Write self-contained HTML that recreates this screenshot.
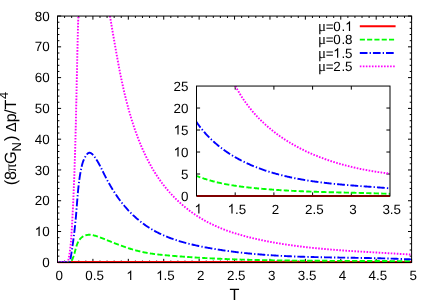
<!DOCTYPE html>
<html><head><meta charset="utf-8"><title>plot</title>
<style>html,body{margin:0;padding:0;background:#fff;}svg{display:block;}</style>
</head><body>
<svg width="436" height="305" viewBox="0 0 436 305" style="will-change:transform">
<rect width="436" height="305" fill="#fff"/>
<defs>
<clipPath id="cm"><rect x="57.5" y="16.05" width="354.1" height="247.60"/></clipPath>
<clipPath id="ci"><rect x="196.5" y="86.05" width="193.5" height="110.95"/></clipPath>
</defs>
<g stroke="#000" stroke-width="1.0" fill="none">
<path d="M57.50,262.45v-3.6M57.50,16.05v3.6M64.58,262.45v-1.9M64.58,16.05v1.9M71.66,262.45v-1.9M71.66,16.05v1.9M78.75,262.45v-1.9M78.75,16.05v1.9M85.83,262.45v-1.9M85.83,16.05v1.9M92.91,262.45v-3.6M92.91,16.05v3.6M99.99,262.45v-1.9M99.99,16.05v1.9M107.07,262.45v-1.9M107.07,16.05v1.9M114.16,262.45v-1.9M114.16,16.05v1.9M121.24,262.45v-1.9M121.24,16.05v1.9M128.32,262.45v-3.6M128.32,16.05v3.6M135.40,262.45v-1.9M135.40,16.05v1.9M142.48,262.45v-1.9M142.48,16.05v1.9M149.57,262.45v-1.9M149.57,16.05v1.9M156.65,262.45v-1.9M156.65,16.05v1.9M163.73,262.45v-3.6M163.73,16.05v3.6M170.81,262.45v-1.9M170.81,16.05v1.9M177.89,262.45v-1.9M177.89,16.05v1.9M184.98,262.45v-1.9M184.98,16.05v1.9M192.06,262.45v-1.9M192.06,16.05v1.9M199.14,262.45v-3.6M199.14,16.05v3.6M206.22,262.45v-1.9M206.22,16.05v1.9M213.30,262.45v-1.9M213.30,16.05v1.9M220.39,262.45v-1.9M220.39,16.05v1.9M227.47,262.45v-1.9M227.47,16.05v1.9M234.55,262.45v-3.6M234.55,16.05v3.6M241.63,262.45v-1.9M241.63,16.05v1.9M248.71,262.45v-1.9M248.71,16.05v1.9M255.80,262.45v-1.9M255.80,16.05v1.9M262.88,262.45v-1.9M262.88,16.05v1.9M269.96,262.45v-3.6M269.96,16.05v3.6M277.04,262.45v-1.9M277.04,16.05v1.9M284.12,262.45v-1.9M284.12,16.05v1.9M291.21,262.45v-1.9M291.21,16.05v1.9M298.29,262.45v-1.9M298.29,16.05v1.9M305.37,262.45v-3.6M305.37,16.05v3.6M312.45,262.45v-1.9M312.45,16.05v1.9M319.53,262.45v-1.9M319.53,16.05v1.9M326.62,262.45v-1.9M326.62,16.05v1.9M333.70,262.45v-1.9M333.70,16.05v1.9M340.78,262.45v-3.6M340.78,16.05v3.6M347.86,262.45v-1.9M347.86,16.05v1.9M354.94,262.45v-1.9M354.94,16.05v1.9M362.03,262.45v-1.9M362.03,16.05v1.9M369.11,262.45v-1.9M369.11,16.05v1.9M376.19,262.45v-3.6M376.19,16.05v3.6M383.27,262.45v-1.9M383.27,16.05v1.9M390.35,262.45v-1.9M390.35,16.05v1.9M397.44,262.45v-1.9M397.44,16.05v1.9M404.52,262.45v-1.9M404.52,16.05v1.9M411.60,262.45v-3.6M411.60,16.05v3.6M57.5,262.30h3.6M411.6,262.30h-3.6M57.5,256.14h1.9M411.6,256.14h-1.9M57.5,249.99h1.9M411.6,249.99h-1.9M57.5,243.83h1.9M411.6,243.83h-1.9M57.5,237.68h1.9M411.6,237.68h-1.9M57.5,231.52h3.6M411.6,231.52h-3.6M57.5,225.36h1.9M411.6,225.36h-1.9M57.5,219.21h1.9M411.6,219.21h-1.9M57.5,213.05h1.9M411.6,213.05h-1.9M57.5,206.90h1.9M411.6,206.90h-1.9M57.5,200.74h3.6M411.6,200.74h-3.6M57.5,194.58h1.9M411.6,194.58h-1.9M57.5,188.43h1.9M411.6,188.43h-1.9M57.5,182.27h1.9M411.6,182.27h-1.9M57.5,176.12h1.9M411.6,176.12h-1.9M57.5,169.96h3.6M411.6,169.96h-3.6M57.5,163.80h1.9M411.6,163.80h-1.9M57.5,157.65h1.9M411.6,157.65h-1.9M57.5,151.49h1.9M411.6,151.49h-1.9M57.5,145.34h1.9M411.6,145.34h-1.9M57.5,139.18h3.6M411.6,139.18h-3.6M57.5,133.02h1.9M411.6,133.02h-1.9M57.5,126.87h1.9M411.6,126.87h-1.9M57.5,120.71h1.9M411.6,120.71h-1.9M57.5,114.56h1.9M411.6,114.56h-1.9M57.5,108.40h3.6M411.6,108.40h-3.6M57.5,102.24h1.9M411.6,102.24h-1.9M57.5,96.09h1.9M411.6,96.09h-1.9M57.5,89.93h1.9M411.6,89.93h-1.9M57.5,83.78h1.9M411.6,83.78h-1.9M57.5,77.62h3.6M411.6,77.62h-3.6M57.5,71.46h1.9M411.6,71.46h-1.9M57.5,65.31h1.9M411.6,65.31h-1.9M57.5,59.15h1.9M411.6,59.15h-1.9M57.5,53.00h1.9M411.6,53.00h-1.9M57.5,46.84h3.6M411.6,46.84h-3.6M57.5,40.68h1.9M411.6,40.68h-1.9M57.5,34.53h1.9M411.6,34.53h-1.9M57.5,28.37h1.9M411.6,28.37h-1.9M57.5,22.22h1.9M411.6,22.22h-1.9M57.5,16.06h3.6M411.6,16.06h-3.6"/>
</g>
<g clip-path="url(#cm)" fill="none" stroke-linejoin="round">
<path d="M57.5,262.05H411.6" stroke="#ff0000" stroke-width="2.3"/>
<path d="M57.50,262.10 L71.00,262.10 L71.30,261.53 L71.60,260.94 L71.89,260.33 L72.18,259.70 L72.47,259.06 L72.75,258.40 L73.02,257.73 L73.29,257.04 L73.54,256.35 L73.78,255.64 L74.01,254.92 L74.23,254.20 L74.45,253.47 L74.65,252.74 L74.85,252.00 L75.05,251.26 L75.24,250.52 L75.44,249.78 L75.64,249.04 L75.84,248.31 L76.05,247.58 L76.26,246.85 L76.48,246.14 L76.71,245.43 L76.96,244.73 L77.22,244.04 L77.49,243.36 L77.78,242.70 L78.09,242.06 L78.42,241.42 L78.78,240.81 L79.15,240.22 L79.55,239.65 L79.97,239.10 L80.43,238.58 L80.91,238.09 L81.41,237.62 L81.96,237.18 L82.53,236.78 L83.13,236.41 L83.76,236.07 L84.40,235.77 L85.06,235.51 L85.73,235.29 L86.39,235.12 L87.06,234.98 L87.73,234.88 L88.40,234.81 L89.07,234.79 L89.75,234.79 L90.42,234.82 L91.09,234.89 L91.76,234.98 L92.44,235.09 L93.11,235.23 L93.79,235.38 L94.46,235.56 L95.14,235.75 L95.82,235.95 L96.50,236.17 L97.17,236.40 L97.85,236.64 L98.53,236.88 L99.21,237.13 L99.89,237.38 L100.57,237.64 L101.26,237.90 L101.94,238.16 L102.62,238.43 L103.30,238.70 L103.99,238.97 L104.67,239.24 L105.36,239.52 L106.04,239.79 L106.73,240.07 L107.41,240.35 L108.10,240.63 L108.78,240.91 L109.47,241.18 L110.16,241.46 L110.84,241.74 L111.53,242.01 L112.22,242.28 L112.91,242.56 L113.60,242.83 L114.29,243.10 L114.97,243.36 L115.66,243.63 L116.35,243.90 L117.04,244.16 L117.73,244.42 L118.43,244.68 L119.12,244.94 L119.81,245.20 L120.50,245.45 L121.19,245.70 L121.88,245.95 L122.58,246.20 L123.27,246.44 L123.96,246.69 L124.66,246.93 L125.35,247.16 L126.05,247.40 L126.74,247.63 L127.43,247.86 L128.13,248.09 L128.83,248.31 L129.52,248.53 L130.22,248.75 L130.91,248.97 L131.61,249.18 L132.31,249.39 L133.00,249.59 L133.70,249.79 L134.40,249.99 L135.10,250.19 L135.80,250.38 L136.49,250.56 L137.19,250.75 L137.89,250.93 L138.59,251.10 L139.29,251.27 L139.99,251.44 L140.69,251.61 L141.39,251.77 L142.09,251.92 L142.79,252.07 L143.50,252.22 L144.20,252.36 L144.90,252.50 L145.60,252.63 L146.30,252.76 L147.01,252.89 L147.71,253.01 L148.41,253.13 L149.12,253.25 L149.82,253.36 L150.52,253.47 L151.23,253.58 L151.93,253.68 L152.64,253.78 L153.34,253.88 L154.05,253.98 L154.75,254.07 L155.46,254.16 L156.17,254.25 L156.87,254.33 L157.58,254.42 L158.28,254.50 L158.99,254.58 L159.70,254.65 L160.41,254.73 L161.11,254.80 L161.82,254.87 L162.53,254.95 L163.24,255.01 L163.95,255.08 L164.66,255.15 L165.37,255.21 L166.07,255.28 L166.78,255.34 L167.49,255.41 L168.20,255.47 L168.91,255.53 L169.62,255.59 L170.34,255.65 L171.05,255.71 L171.76,255.77 L172.47,255.83 L173.18,255.89 L173.89,255.95 L174.60,256.01 L175.32,256.06 L176.03,256.12 L176.74,256.18 L177.45,256.23 L178.17,256.29 L178.88,256.34 L179.59,256.40 L180.31,256.45 L181.02,256.51 L181.74,256.56 L182.45,256.61 L183.16,256.66 L183.88,256.72 L184.59,256.77 L185.31,256.82 L186.02,256.87 L186.74,256.92 L187.45,256.97 L188.17,257.02 L188.89,257.07 L189.60,257.12 L190.32,257.16 L191.04,257.21 L191.75,257.26 L192.47,257.30 L193.19,257.35 L193.90,257.40 L194.62,257.44 L195.34,257.49 L196.06,257.53 L196.77,257.58 L197.49,257.62 L198.21,257.66 L198.93,257.71 L199.65,257.75 L200.37,257.79 L201.09,257.83 L201.80,257.87 L202.52,257.92 L203.24,257.96 L203.96,258.00 L204.68,258.04 L205.40,258.08 L206.12,258.11 L206.84,258.15 L207.56,258.19 L208.28,258.23 L209.00,258.27 L209.72,258.30 L210.45,258.34 L211.17,258.38 L211.89,258.41 L212.61,258.45 L213.33,258.49 L214.05,258.52 L214.77,258.55 L215.50,258.59 L216.22,258.62 L216.94,258.66 L217.66,258.69 L218.39,258.72 L219.11,258.76 L219.83,258.79 L220.55,258.82 L221.28,258.85 L222.00,258.88 L222.72,258.91 L223.45,258.94 L224.17,258.97 L224.89,259.00 L225.62,259.03 L226.34,259.06 L227.07,259.09 L227.79,259.12 L228.51,259.15 L229.24,259.18 L229.96,259.20 L230.69,259.23 L231.41,259.26 L232.14,259.28 L232.86,259.31 L233.59,259.34 L234.31,259.36 L235.04,259.39 L235.76,259.41 L236.49,259.44 L237.21,259.46 L237.94,259.49 L238.66,259.51 L239.39,259.53 L240.12,259.56 L240.84,259.58 L241.57,259.60 L242.29,259.62 L243.02,259.65 L243.75,259.67 L244.47,259.69 L245.20,259.71 L245.93,259.73 L246.65,259.75 L247.38,259.77 L248.11,259.79 L248.83,259.81 L249.56,259.83 L250.29,259.85 L251.01,259.87 L251.74,259.89 L252.47,259.91 L253.20,259.93 L253.92,259.95 L254.65,259.96 L255.38,259.98 L256.11,260.00 L256.83,260.02 L257.56,260.03 L258.29,260.05 L259.02,260.07 L259.75,260.08 L260.47,260.10 L261.20,260.11 L261.93,260.13 L262.66,260.15 L263.39,260.16 L264.12,260.17 L264.84,260.19 L265.57,260.20 L266.30,260.22 L267.03,260.23 L267.76,260.25 L268.49,260.26 L269.21,260.27 L269.94,260.29 L270.67,260.30 L271.40,260.31 L272.13,260.32 L272.86,260.34 L273.59,260.35 L274.32,260.36 L275.04,260.37 L275.77,260.38 L276.50,260.39 L277.23,260.41 L277.96,260.42 L278.69,260.43 L279.42,260.44 L280.15,260.45 L280.88,260.46 L281.61,260.47 L282.34,260.48 L283.06,260.49 L283.79,260.50 L284.52,260.51 L285.25,260.52 L285.98,260.52 L286.71,260.53 L287.44,260.54 L288.17,260.55 L288.90,260.56 L289.63,260.57 L290.36,260.57 L291.09,260.58 L291.81,260.59 L292.54,260.60 L293.27,260.61 L294.00,260.61 L294.73,260.62 L295.46,260.63 L296.19,260.63 L296.92,260.64 L297.65,260.65 L298.38,260.65 L299.11,260.66 L299.84,260.67 L300.57,260.67 L301.30,260.68 L302.02,260.68 L302.75,260.69 L303.48,260.69 L304.21,260.70 L304.94,260.71 L305.67,260.71 L306.40,260.72 L307.13,260.72 L307.86,260.73 L308.59,260.73 L309.31,260.74 L310.04,260.74 L310.77,260.74 L311.50,260.75 L312.23,260.75 L312.96,260.76 L313.69,260.76 L314.42,260.77 L315.14,260.77 L315.87,260.77 L316.60,260.78 L317.33,260.78 L318.06,260.78 L318.79,260.79 L319.52,260.79 L320.24,260.79 L320.97,260.80 L321.70,260.80 L322.43,260.80 L323.16,260.81 L323.88,260.81 L324.61,260.81 L325.34,260.82 L326.07,260.82 L326.80,260.82 L327.52,260.82 L328.25,260.83 L328.98,260.83 L329.71,260.83 L330.43,260.84 L331.16,260.84 L331.89,260.84 L332.62,260.84 L333.34,260.85 L334.07,260.85 L334.80,260.85 L335.53,260.85 L336.25,260.85 L336.98,260.86 L337.71,260.86 L338.43,260.86 L339.16,260.86 L339.89,260.87 L340.61,260.87 L341.34,260.87 L342.06,260.87 L342.79,260.87 L343.52,260.88 L344.24,260.88 L344.97,260.88 L345.69,260.88 L346.42,260.88 L347.15,260.89 L347.87,260.89 L348.60,260.89 L349.32,260.89 L350.05,260.89 L350.77,260.90 L351.50,260.90 L352.22,260.90 L352.95,260.90 L353.67,260.91 L354.40,260.91 L355.12,260.91 L355.85,260.91 L356.57,260.91 L357.29,260.92 L358.02,260.92 L358.74,260.92 L359.47,260.92 L360.19,260.93 L360.91,260.93 L361.64,260.93 L362.36,260.93 L363.08,260.94 L363.81,260.94 L364.53,260.94 L365.25,260.94 L365.97,260.95 L366.70,260.95 L367.42,260.95 L368.14,260.95 L368.86,260.96 L369.58,260.96 L370.31,260.96 L371.03,260.97 L371.75,260.97 L372.47,260.97 L373.19,260.98 L373.91,260.98 L374.63,260.98 L375.36,260.99 L376.08,260.99 L376.80,260.99 L377.52,261.00 L378.24,261.00 L378.96,261.01 L379.68,261.01 L380.40,261.01 L381.12,261.02 L381.84,261.02 L382.55,261.03 L383.27,261.03 L383.99,261.04 L384.71,261.04 L385.43,261.05 L386.15,261.05 L386.87,261.06 L387.58,261.06 L388.30,261.07 L389.02,261.07 L389.74,261.08 L390.46,261.08 L391.17,261.09 L391.89,261.10 L392.61,261.10 L393.32,261.11 L394.04,261.11 L394.76,261.12 L395.47,261.13 L396.19,261.13 L396.90,261.14 L397.62,261.15 L398.33,261.15 L399.05,261.16 L399.77,261.17 L400.48,261.18 L401.19,261.18 L401.91,261.19 L402.62,261.20 L403.34,261.21 L404.05,261.22 L404.76,261.22 L405.48,261.23 L406.19,261.24 L406.90,261.25 L407.62,261.26 L408.33,261.27 L409.04,261.28 L409.75,261.29 L410.47,261.30 L411.18,261.31" stroke="#00ff00" stroke-width="1.9" stroke-dasharray="5.25 2.25"/>
<path d="M57.50,262.10 L69.90,262.10 L70.08,261.14 L70.25,260.19 L70.42,259.23 L70.58,258.28 L70.75,257.32 L70.91,256.37 L71.07,255.42 L71.22,254.47 L71.37,253.53 L71.52,252.58 L71.67,251.64 L71.82,250.69 L71.96,249.75 L72.10,248.81 L72.24,247.87 L72.38,246.92 L72.52,245.98 L72.65,245.05 L72.79,244.11 L72.92,243.17 L73.05,242.23 L73.17,241.29 L73.30,240.35 L73.42,239.42 L73.55,238.48 L73.67,237.54 L73.78,236.61 L73.90,235.67 L74.02,234.73 L74.13,233.79 L74.24,232.86 L74.35,231.92 L74.46,230.98 L74.57,230.04 L74.67,229.10 L74.78,228.16 L74.88,227.22 L74.98,226.28 L75.08,225.34 L75.18,224.39 L75.27,223.45 L75.37,222.50 L75.46,221.56 L75.56,220.61 L75.65,219.66 L75.73,218.71 L75.82,217.76 L75.91,216.81 L75.99,215.85 L76.08,214.90 L76.16,213.94 L76.24,212.98 L76.32,212.02 L76.40,211.06 L76.48,210.10 L76.55,209.13 L76.63,208.17 L76.71,207.20 L76.78,206.23 L76.86,205.26 L76.93,204.29 L77.01,203.32 L77.08,202.35 L77.16,201.38 L77.24,200.41 L77.32,199.44 L77.39,198.47 L77.47,197.49 L77.55,196.52 L77.64,195.55 L77.72,194.58 L77.81,193.61 L77.89,192.64 L77.98,191.67 L78.07,190.71 L78.17,189.74 L78.26,188.78 L78.36,187.81 L78.47,186.85 L78.57,185.89 L78.68,184.93 L78.79,183.97 L78.90,183.02 L79.02,182.06 L79.14,181.11 L79.27,180.16 L79.40,179.21 L79.53,178.27 L79.67,177.33 L79.81,176.39 L79.96,175.45 L80.11,174.52 L80.27,173.59 L80.43,172.66 L80.60,171.74 L80.77,170.82 L80.95,169.90 L81.13,168.98 L81.32,168.07 L81.52,167.17 L81.73,166.27 L81.94,165.37 L82.18,164.48 L82.43,163.59 L82.70,162.70 L82.99,161.82 L83.31,160.95 L83.66,160.08 L84.03,159.21 L84.44,158.35 L84.88,157.49 L85.35,156.64 L85.87,155.80 L86.43,154.98 L87.02,154.22 L87.64,153.57 L88.29,153.08 L88.96,152.80 L89.65,152.74 L90.35,152.88 L91.05,153.20 L91.76,153.68 L92.47,154.30 L93.17,155.04 L93.85,155.85 L94.52,156.73 L95.17,157.65 L95.79,158.57 L96.39,159.49 L96.96,160.39 L97.50,161.29 L98.02,162.17 L98.52,163.05 L99.00,163.92 L99.46,164.78 L99.91,165.64 L100.35,166.49 L100.78,167.33 L101.20,168.18 L101.61,169.01 L102.02,169.85 L102.43,170.69 L102.83,171.52 L103.24,172.35 L103.66,173.19 L104.07,174.02 L104.49,174.85 L104.92,175.69 L105.35,176.52 L105.78,177.35 L106.21,178.19 L106.65,179.02 L107.10,179.85 L107.54,180.68 L108.00,181.50 L108.45,182.33 L108.91,183.16 L109.38,183.98 L109.85,184.80 L110.32,185.63 L110.80,186.45 L111.29,187.26 L111.77,188.08 L112.27,188.89 L112.77,189.70 L113.27,190.51 L113.78,191.32 L114.29,192.12 L114.81,192.92 L115.33,193.72 L115.86,194.52 L116.39,195.31 L116.93,196.10 L117.48,196.88 L118.03,197.67 L118.58,198.44 L119.15,199.22 L119.71,199.99 L120.29,200.76 L120.86,201.52 L121.45,202.28 L122.04,203.03 L122.64,203.78 L123.24,204.53 L123.85,205.27 L124.47,206.01 L125.09,206.74 L125.72,207.47 L126.35,208.19 L126.99,208.91 L127.64,209.62 L128.29,210.32 L128.95,211.02 L129.62,211.72 L130.29,212.41 L130.97,213.09 L131.65,213.77 L132.34,214.44 L133.03,215.11 L133.73,215.76 L134.44,216.42 L135.15,217.06 L135.87,217.71 L136.59,218.34 L137.32,218.97 L138.05,219.59 L138.79,220.20 L139.54,220.81 L140.28,221.41 L141.04,222.00 L141.80,222.59 L142.56,223.17 L143.33,223.74 L144.10,224.30 L144.88,224.86 L145.66,225.41 L146.45,225.95 L147.24,226.48 L148.04,227.00 L148.84,227.52 L149.64,228.03 L150.45,228.53 L151.26,229.02 L152.08,229.51 L152.90,229.98 L153.73,230.45 L154.56,230.91 L155.39,231.37 L156.23,231.81 L157.07,232.25 L157.91,232.68 L158.76,233.11 L159.61,233.52 L160.47,233.93 L161.32,234.33 L162.19,234.73 L163.05,235.12 L163.92,235.50 L164.79,235.87 L165.66,236.24 L166.54,236.61 L167.42,236.96 L168.30,237.31 L169.19,237.65 L170.08,237.99 L170.97,238.32 L171.86,238.65 L172.76,238.97 L173.66,239.29 L174.56,239.59 L175.46,239.90 L176.37,240.20 L177.28,240.49 L178.19,240.78 L179.10,241.06 L180.01,241.34 L180.93,241.61 L181.85,241.88 L182.77,242.14 L183.69,242.40 L184.61,242.66 L185.54,242.91 L186.47,243.15 L187.39,243.39 L188.32,243.63 L189.25,243.86 L190.19,244.09 L191.12,244.32 L192.06,244.54 L192.99,244.76 L193.93,244.97 L194.87,245.19 L195.81,245.39 L196.75,245.60 L197.69,245.80 L198.63,246.00 L199.57,246.19 L200.51,246.39 L201.45,246.58 L202.40,246.77 L203.34,246.95 L204.29,247.13 L205.23,247.31 L206.18,247.49 L207.12,247.67 L208.07,247.84 L209.01,248.01 L209.96,248.18 L210.90,248.35 L211.85,248.51 L212.79,248.68 L213.74,248.84 L214.69,249.00 L215.63,249.15 L216.58,249.31 L217.52,249.46 L218.47,249.61 L219.42,249.76 L220.36,249.91 L221.31,250.05 L222.26,250.19 L223.21,250.33 L224.15,250.47 L225.10,250.61 L226.05,250.74 L227.00,250.88 L227.94,251.01 L228.89,251.14 L229.84,251.27 L230.79,251.39 L231.74,251.52 L232.69,251.64 L233.63,251.76 L234.58,251.88 L235.53,252.00 L236.48,252.11 L237.43,252.22 L238.38,252.34 L239.33,252.45 L240.28,252.56 L241.23,252.66 L242.18,252.77 L243.13,252.87 L244.08,252.97 L245.03,253.07 L245.98,253.17 L246.93,253.27 L247.88,253.37 L248.83,253.46 L249.78,253.55 L250.73,253.64 L251.68,253.73 L252.63,253.82 L253.58,253.91 L254.53,253.99 L255.49,254.08 L256.44,254.16 L257.39,254.24 L258.34,254.32 L259.29,254.40 L260.24,254.48 L261.20,254.55 L262.15,254.63 L263.10,254.70 L264.05,254.77 L265.00,254.84 L265.96,254.91 L266.91,254.98 L267.86,255.05 L268.81,255.11 L269.77,255.18 L270.72,255.24 L271.67,255.30 L272.62,255.36 L273.58,255.42 L274.53,255.48 L275.48,255.54 L276.44,255.59 L277.39,255.65 L278.34,255.70 L279.30,255.75 L280.25,255.81 L281.20,255.86 L282.16,255.91 L283.11,255.95 L284.07,256.00 L285.02,256.05 L285.97,256.10 L286.93,256.14 L287.88,256.18 L288.84,256.23 L289.79,256.27 L290.74,256.31 L291.70,256.35 L292.65,256.39 L293.61,256.43 L294.56,256.47 L295.52,256.50 L296.47,256.54 L297.43,256.58 L298.38,256.61 L299.34,256.64 L300.29,256.68 L301.25,256.71 L302.20,256.74 L303.16,256.77 L304.11,256.80 L305.07,256.83 L306.02,256.86 L306.98,256.89 L307.93,256.92 L308.89,256.94 L309.84,256.97 L310.80,257.00 L311.75,257.02 L312.71,257.05 L313.66,257.07 L314.62,257.10 L315.58,257.12 L316.53,257.14 L317.49,257.16 L318.44,257.19 L319.40,257.21 L320.35,257.23 L321.31,257.25 L322.27,257.27 L323.22,257.29 L324.18,257.31 L325.13,257.33 L326.09,257.35 L327.05,257.36 L328.00,257.38 L328.96,257.40 L329.92,257.42 L330.87,257.43 L331.83,257.45 L332.78,257.47 L333.74,257.48 L334.70,257.50 L335.65,257.52 L336.61,257.53 L337.57,257.55 L338.52,257.56 L339.48,257.58 L340.44,257.59 L341.39,257.61 L342.35,257.62 L343.31,257.64 L344.26,257.65 L345.22,257.67 L346.18,257.68 L347.13,257.70 L348.09,257.71 L349.04,257.73 L350.00,257.74 L350.96,257.76 L351.91,257.77 L352.87,257.79 L353.83,257.80 L354.78,257.82 L355.74,257.83 L356.70,257.85 L357.65,257.86 L358.61,257.88 L359.57,257.90 L360.52,257.91 L361.48,257.93 L362.44,257.94 L363.39,257.96 L364.35,257.98 L365.31,257.99 L366.26,258.01 L367.22,258.03 L368.18,258.05 L369.13,258.07 L370.09,258.08 L371.05,258.10 L372.00,258.12 L372.96,258.14 L373.92,258.16 L374.87,258.18 L375.83,258.20 L376.79,258.22 L377.74,258.25 L378.70,258.27 L379.66,258.29 L380.61,258.31 L381.57,258.34 L382.52,258.36 L383.48,258.39 L384.44,258.41 L385.39,258.44 L386.35,258.46 L387.31,258.49 L388.26,258.52 L389.22,258.55 L390.17,258.58 L391.13,258.61 L392.09,258.64 L393.04,258.67 L394.00,258.70 L394.96,258.73 L395.91,258.76 L396.87,258.80 L397.82,258.83 L398.78,258.87 L399.73,258.90 L400.69,258.94 L401.65,258.98 L402.60,259.02 L403.56,259.06 L404.51,259.10 L405.47,259.14 L406.42,259.18 L407.38,259.22 L408.34,259.27 L409.29,259.31 L410.25,259.36 L411.20,259.40" stroke="#0000ff" stroke-width="1.9" stroke-dasharray="7.84 2.14 1.32 2.03" stroke-dashoffset="11.4"/>
<path d="M57.50,262.10 L67.90,262.10 L68.02,261.61 L68.13,261.12 L68.23,260.64 L68.34,260.15 L68.44,259.66 L68.54,259.17 L68.64,258.68 L68.74,258.19 L68.83,257.70 L68.92,257.21 L69.01,256.72 L69.10,256.23 L69.19,255.74 L69.27,255.26 L69.35,254.77 L69.43,254.28 L69.51,253.79 L69.58,253.30 L69.66,252.81 L69.73,252.32 L69.80,251.83 L69.87,251.34 L69.94,250.85 L70.00,250.36 L70.06,249.87 L70.13,249.38 L70.19,248.89 L70.24,248.40 L70.30,247.91 L70.36,247.42 L70.41,246.93 L70.47,246.44 L70.52,245.95 L70.57,245.46 L70.62,244.97 L70.67,244.48 L70.71,243.99 L70.76,243.50 L70.80,243.01 L70.85,242.52 L70.89,242.03 L70.93,241.54 L70.97,241.05 L71.01,240.56 L71.05,240.07 L71.09,239.58 L71.13,239.09 L71.16,238.60 L71.20,238.11 L71.23,237.62 L71.27,237.13 L71.30,236.64 L71.34,236.14 L71.37,235.65 L71.40,235.16 L71.43,234.67 L71.47,234.18 L71.50,233.69 L71.53,233.20 L71.56,232.71 L71.59,232.22 L71.62,231.73 L71.65,231.24 L71.68,230.75 L71.71,230.25 L71.74,229.76 L71.77,229.27 L71.80,228.78 L71.83,228.29 L71.86,227.80 L71.89,227.31 L71.91,226.82 L71.94,226.32 L71.97,225.83 L72.00,225.34 L72.03,224.85 L72.06,224.36 L72.08,223.87 L72.11,223.38 L72.14,222.88 L72.17,222.39 L72.20,221.90 L72.22,221.41 L72.25,220.92 L72.28,220.43 L72.31,219.93 L72.33,219.44 L72.36,218.95 L72.39,218.46 L72.41,217.97 L72.44,217.48 L72.47,216.98 L72.49,216.49 L72.52,216.00 L72.54,215.51 L72.57,215.02 L72.60,214.52 L72.62,214.03 L72.65,213.54 L72.67,213.05 L72.70,212.56 L72.72,212.06 L72.75,211.57 L72.77,211.08 L72.80,210.59 L72.82,210.09 L72.85,209.60 L72.87,209.11 L72.90,208.62 L72.92,208.12 L72.95,207.63 L72.97,207.14 L72.99,206.65 L73.02,206.16 L73.04,205.66 L73.06,205.17 L73.09,204.68 L73.11,204.18 L73.14,203.69 L73.16,203.20 L73.18,202.71 L73.20,202.21 L73.23,201.72 L73.25,201.23 L73.27,200.74 L73.30,200.24 L73.32,199.75 L73.34,199.26 L73.36,198.77 L73.39,198.27 L73.41,197.78 L73.43,197.29 L73.45,196.79 L73.47,196.30 L73.49,195.81 L73.52,195.31 L73.54,194.82 L73.56,194.33 L73.58,193.84 L73.60,193.34 L73.62,192.85 L73.64,192.36 L73.66,191.86 L73.69,191.37 L73.71,190.88 L73.73,190.38 L73.75,189.89 L73.77,189.40 L73.79,188.90 L73.81,188.41 L73.83,187.92 L73.85,187.42 L73.87,186.93 L73.89,186.44 L73.91,185.94 L73.93,185.45 L73.95,184.96 L73.97,184.46 L73.99,183.97 L74.01,183.48 L74.03,182.98 L74.04,182.49 L74.06,182.00 L74.08,181.50 L74.10,181.01 L74.12,180.52 L74.14,180.02 L74.16,179.53 L74.18,179.03 L74.19,178.54 L74.21,178.05 L74.23,177.55 L74.25,177.06 L74.27,176.57 L74.29,176.07 L74.30,175.58 L74.32,175.09 L74.34,174.59 L74.36,174.10 L74.38,173.60 L74.39,173.11 L74.41,172.62 L74.43,172.12 L74.44,171.63 L74.46,171.13 L74.48,170.64 L74.50,170.15 L74.51,169.65 L74.53,169.16 L74.55,168.66 L74.56,168.17 L74.58,167.68 L74.60,167.18 L74.61,166.69 L74.63,166.19 L74.65,165.70 L74.66,165.21 L74.68,164.71 L74.70,164.22 L74.71,163.72 L74.73,163.23 L74.74,162.74 L74.76,162.24 L74.78,161.75 L74.79,161.25 L74.81,160.76 L74.82,160.27 L74.84,159.77 L74.85,159.28 L74.87,158.78 L74.89,158.29 L74.90,157.79 L74.92,157.30 L74.93,156.81 L74.95,156.31 L74.96,155.82 L74.98,155.32 L74.99,154.83 L75.01,154.33 L75.02,153.84 L75.04,153.35 L75.05,152.85 L75.07,152.36 L75.08,151.86 L75.09,151.37 L75.11,150.87 L75.12,150.38 L75.14,149.88 L75.15,149.39 L75.17,148.90 L75.18,148.40 L75.19,147.91 L75.21,147.41 L75.22,146.92 L75.24,146.42 L75.25,145.93 L75.26,145.43 L75.28,144.94 L75.29,144.45 L75.30,143.95 L75.32,143.46 L75.33,142.96 L75.35,142.47 L75.36,141.97 L75.37,141.48 L75.39,140.98 L75.40,140.49 L75.41,139.99 L75.43,139.50 L75.44,139.00 L75.45,138.51 L75.46,138.02 L75.48,137.52 L75.49,137.03 L75.50,136.53 L75.52,136.04 L75.53,135.54 L75.54,135.05 L75.55,134.55 L75.57,134.06 L75.58,133.56 L75.59,133.07 L75.60,132.57 L75.62,132.08 L75.63,131.59 L75.64,131.09 L75.65,130.60 L75.67,130.10 L75.68,129.61 L75.69,129.11 L75.70,128.62 L75.72,128.12 L75.73,127.63 L75.74,127.13 L75.75,126.64 L75.76,126.14 L75.78,125.65 L75.79,125.15 L75.80,124.66 L75.81,124.16 L75.82,123.67 L75.84,123.18 L75.85,122.68 L75.86,122.19 L75.87,121.69 L75.88,121.20 L75.89,120.70 L75.91,120.21 L75.92,119.71 L75.93,119.22 L75.94,118.72 L75.95,118.23 L75.96,117.73 L75.97,117.24 L75.99,116.74 L76.00,116.25 L76.01,115.75 L76.02,115.26 L76.03,114.76 L76.04,114.27 L76.05,113.78 L76.06,113.28 L76.08,112.79 L76.09,112.29 L76.10,111.80 L76.11,111.30 L76.12,110.81 L76.13,110.31 L76.14,109.82 L76.15,109.32 L76.16,108.83 L76.17,108.33 L76.19,107.84 L76.20,107.34 L76.21,106.85 L76.22,106.35 L76.23,105.86 L76.24,105.36 L76.25,104.87 L76.26,104.38 L76.27,103.88 L76.28,103.39 L76.29,102.89 L76.30,102.40 L76.32,101.90 L76.33,101.41 L76.34,100.91 L76.35,100.42 L76.36,99.92 L76.37,99.43 L76.38,98.93 L76.39,98.44 L76.40,97.94 L76.41,97.45 L76.42,96.95 L76.43,96.46 L76.44,95.97 L76.45,95.47 L76.46,94.98 L76.47,94.48 L76.48,93.99 L76.49,93.49 L76.51,93.00 L76.52,92.50 L76.53,92.01 L76.54,91.51 L76.55,91.02 L76.56,90.52 L76.57,90.03 L76.58,89.54 L76.59,89.04 L76.60,88.55 L76.61,88.05 L76.62,87.56 L76.63,87.06 L76.64,86.57 L76.65,86.07 L76.66,85.58 L76.67,85.09 L76.68,84.59 L76.69,84.10 L76.70,83.60 L76.71,83.11 L76.72,82.61 L76.73,82.12 L76.74,81.62 L76.75,81.13 L76.77,80.64 L76.78,80.14 L76.79,79.65 L76.80,79.15 L76.81,78.66 L76.82,78.16 L76.83,77.67 L76.84,77.17 L76.85,76.68 L76.86,76.19 L76.87,75.69 L76.88,75.20 L76.89,74.70 L76.90,74.21 L76.91,73.71 L76.92,73.22 L76.93,72.73 L76.94,72.23 L76.95,71.74 L76.96,71.24 L76.97,70.75 L76.98,70.26 L76.99,69.76 L77.01,69.27 L77.02,68.77 L77.03,68.28 L77.04,67.78 L77.05,67.29 L77.06,66.80 L77.07,66.30 L77.08,65.81 L77.09,65.31 L77.10,64.82 L77.11,64.33 L77.12,63.83 L77.13,63.34 L77.14,62.84 L77.15,62.35 L77.17,61.86 L77.18,61.36 L77.19,60.87 L77.20,60.37 L77.21,59.88 L77.22,59.39 L77.23,58.89 L77.24,58.40 L77.25,57.91 L77.26,57.41 L77.27,56.92 L77.29,56.42 L77.30,55.93 L77.31,55.44 L77.32,54.94 L77.33,54.45 L77.34,53.96 L77.35,53.46 L77.36,52.97 L77.38,52.47 L77.39,51.98 L77.40,51.49 L77.41,50.99 L77.42,50.50 L77.43,50.01 L77.44,49.51 L77.45,49.02 L77.47,48.53 L77.48,48.03 L77.49,47.54 L77.50,47.05 L77.51,46.55 L77.52,46.06 L77.54,45.57 L77.55,45.07 L77.56,44.58 L77.57,44.09 L77.58,43.59 L77.59,43.10 L77.61,42.61 L77.62,42.11 L77.63,41.62 L77.64,41.13 L77.65,40.63 L77.67,40.14 L77.68,39.65 L77.69,39.15 L77.70,38.66 L77.72,38.17 L77.73,37.67 L77.74,37.18 L77.75,36.69 L77.76,36.20 L77.78,35.70 L77.79,35.21 L77.80,34.72 L77.81,34.22 L77.83,33.73 L77.84,33.24 L77.85,32.74 L77.87,32.25 L77.88,31.76 L77.89,31.27 L77.90,30.77 L77.92,30.28 L77.93,29.79 L77.94,29.30 L77.96,28.80 L77.97,28.31 L77.98,27.82 L78.00,27.33 L78.01,26.83 L78.02,26.34 L78.04,25.85 L78.05,25.36 L78.06,24.86 L78.08,24.37 L78.09,23.88 L78.10,23.39 L78.12,22.89 L78.13,22.40 L78.14,21.91 L78.16,21.42 L78.17,20.92 L78.19,20.43 L78.20,19.94 L78.21,19.45 L78.23,18.96 L78.24,18.46 L78.26,17.97 L78.27,17.48 L78.29,16.99 L78.30,16.50 L78.31,16.00" stroke="#ff00ff" stroke-width="1.9" stroke-dasharray="1.6 1.43"/>
<path d="M109.90,16.00 L110.06,16.88 L110.21,17.76 L110.37,18.65 L110.53,19.53 L110.68,20.41 L110.84,21.29 L110.99,22.17 L111.15,23.05 L111.30,23.93 L111.45,24.81 L111.61,25.69 L111.76,26.57 L111.91,27.45 L112.07,28.33 L112.22,29.21 L112.37,30.09 L112.52,30.97 L112.67,31.85 L112.83,32.73 L112.98,33.60 L113.13,34.48 L113.28,35.36 L113.43,36.24 L113.58,37.12 L113.74,37.99 L113.89,38.87 L114.04,39.75 L114.19,40.62 L114.34,41.50 L114.50,42.38 L114.65,43.25 L114.80,44.13 L114.95,45.01 L115.11,45.88 L115.26,46.76 L115.41,47.63 L115.57,48.51 L115.72,49.38 L115.88,50.26 L116.03,51.13 L116.19,52.01 L116.34,52.88 L116.50,53.76 L116.66,54.63 L116.81,55.51 L116.97,56.38 L117.13,57.25 L117.29,58.13 L117.45,59.00 L117.61,59.87 L117.77,60.75 L117.93,61.62 L118.09,62.49 L118.26,63.36 L118.42,64.23 L118.59,65.11 L118.75,65.98 L118.92,66.85 L119.08,67.72 L119.25,68.59 L119.42,69.46 L119.59,70.33 L119.76,71.20 L119.94,72.08 L120.11,72.95 L120.28,73.82 L120.46,74.69 L120.63,75.55 L120.81,76.42 L120.99,77.29 L121.17,78.16 L121.35,79.03 L121.53,79.90 L121.72,80.77 L121.90,81.64 L122.09,82.51 L122.27,83.37 L122.46,84.24 L122.65,85.11 L122.84,85.98 L123.04,86.84 L123.23,87.71 L123.43,88.58 L123.62,89.44 L123.82,90.31 L124.02,91.18 L124.23,92.04 L124.43,92.91 L124.63,93.77 L124.84,94.64 L125.05,95.50 L125.26,96.37 L125.47,97.23 L125.68,98.10 L125.90,98.96 L126.12,99.83 L126.33,100.69 L126.56,101.56 L126.78,102.42 L127.00,103.28 L127.23,104.15 L127.46,105.01 L127.69,105.87 L127.92,106.74 L128.15,107.60 L128.39,108.46 L128.63,109.32 L128.87,110.18 L129.11,111.05 L129.36,111.91 L129.60,112.77 L129.85,113.63 L130.10,114.49 L130.36,115.35 L130.61,116.21 L130.87,117.07 L131.13,117.93 L131.39,118.79 L131.66,119.65 L131.92,120.51 L132.19,121.37 L132.47,122.23 L132.74,123.09 L133.02,123.95 L133.30,124.80 L133.58,125.66 L133.86,126.52 L134.15,127.37 L134.44,128.22 L134.73,129.08 L135.03,129.93 L135.33,130.78 L135.63,131.64 L135.93,132.49 L136.24,133.34 L136.55,134.18 L136.86,135.03 L137.17,135.88 L137.49,136.72 L137.81,137.57 L138.13,138.41 L138.46,139.25 L138.79,140.09 L139.12,140.93 L139.45,141.77 L139.79,142.61 L140.13,143.44 L140.48,144.28 L140.82,145.11 L141.17,145.94 L141.53,146.77 L141.88,147.60 L142.24,148.42 L142.61,149.25 L142.97,150.07 L143.34,150.89 L143.72,151.71 L144.09,152.52 L144.47,153.34 L144.85,154.15 L145.24,154.96 L145.63,155.77 L146.02,156.58 L146.42,157.39 L146.82,158.19 L147.22,158.99 L147.63,159.79 L148.04,160.59 L148.46,161.38 L148.87,162.17 L149.29,162.96 L149.72,163.75 L150.15,164.53 L150.58,165.31 L151.02,166.09 L151.46,166.87 L151.90,167.65 L152.35,168.42 L152.80,169.19 L153.26,169.95 L153.72,170.72 L154.18,171.48 L154.65,172.24 L155.12,172.99 L155.59,173.74 L156.07,174.49 L156.55,175.24 L157.04,175.98 L157.53,176.72 L158.03,177.46 L158.53,178.19 L159.03,178.92 L159.54,179.65 L160.05,180.38 L160.57,181.10 L161.09,181.81 L161.61,182.53 L162.14,183.24 L162.68,183.95 L163.22,184.65 L163.76,185.35 L164.30,186.05 L164.86,186.74 L165.41,187.43 L165.97,188.11 L166.53,188.80 L167.10,189.47 L167.68,190.15 L168.25,190.82 L168.83,191.49 L169.42,192.15 L170.01,192.81 L170.60,193.46 L171.20,194.11 L171.80,194.76 L172.41,195.41 L173.02,196.05 L173.63,196.68 L174.25,197.31 L174.88,197.94 L175.50,198.56 L176.13,199.18 L176.77,199.80 L177.40,200.41 L178.05,201.02 L178.69,201.62 L179.34,202.22 L179.99,202.81 L180.65,203.40 L181.31,203.99 L181.98,204.57 L182.65,205.14 L183.32,205.72 L183.99,206.28 L184.67,206.85 L185.35,207.41 L186.04,207.96 L186.73,208.51 L187.42,209.06 L188.12,209.60 L188.82,210.14 L189.53,210.67 L190.23,211.20 L190.94,211.72 L191.66,212.24 L192.38,212.75 L193.10,213.26 L193.82,213.76 L194.55,214.26 L195.28,214.76 L196.01,215.25 L196.75,215.73 L197.49,216.21 L198.23,216.69 L198.98,217.16 L199.73,217.62 L200.48,218.08 L201.24,218.54 L202.00,218.99 L202.76,219.43 L203.52,219.87 L204.29,220.31 L205.06,220.74 L205.84,221.16 L206.61,221.58 L207.39,221.99 L208.17,222.40 L208.96,222.81 L209.75,223.21 L210.54,223.60 L211.33,223.99 L212.12,224.38 L212.92,224.76 L213.72,225.13 L214.53,225.50 L215.33,225.87 L216.14,226.23 L216.95,226.59 L217.76,226.94 L218.58,227.29 L219.40,227.63 L220.21,227.97 L221.04,228.31 L221.86,228.64 L222.69,228.97 L223.51,229.29 L224.34,229.61 L225.17,229.92 L226.01,230.23 L226.84,230.54 L227.68,230.84 L228.52,231.14 L229.36,231.44 L230.20,231.73 L231.05,232.02 L231.89,232.30 L232.74,232.58 L233.59,232.86 L234.44,233.13 L235.29,233.40 L236.15,233.67 L237.00,233.93 L237.86,234.19 L238.72,234.44 L239.58,234.70 L240.44,234.95 L241.30,235.19 L242.16,235.44 L243.02,235.68 L243.89,235.91 L244.76,236.15 L245.62,236.38 L246.49,236.61 L247.36,236.83 L248.23,237.05 L249.10,237.27 L249.97,237.49 L250.84,237.70 L251.72,237.92 L252.59,238.12 L253.46,238.33 L254.34,238.54 L255.21,238.74 L256.09,238.94 L256.97,239.13 L257.84,239.33 L258.72,239.52 L259.60,239.71 L260.48,239.90 L261.36,240.08 L262.23,240.27 L263.11,240.45 L263.99,240.63 L264.87,240.81 L265.75,240.98 L266.63,241.16 L267.51,241.33 L268.39,241.50 L269.27,241.66 L270.15,241.83 L271.03,241.99 L271.91,242.16 L272.79,242.32 L273.67,242.48 L274.56,242.63 L275.44,242.79 L276.32,242.94 L277.20,243.09 L278.08,243.24 L278.97,243.39 L279.85,243.54 L280.73,243.68 L281.61,243.82 L282.50,243.96 L283.38,244.10 L284.26,244.24 L285.15,244.38 L286.03,244.51 L286.91,244.64 L287.80,244.78 L288.68,244.91 L289.56,245.03 L290.45,245.16 L291.33,245.29 L292.22,245.41 L293.10,245.53 L293.99,245.65 L294.87,245.77 L295.76,245.89 L296.64,246.00 L297.53,246.12 L298.41,246.23 L299.30,246.34 L300.18,246.46 L301.07,246.56 L301.95,246.67 L302.84,246.78 L303.73,246.88 L304.61,246.99 L305.50,247.09 L306.38,247.19 L307.27,247.29 L308.16,247.39 L309.04,247.49 L309.93,247.59 L310.82,247.68 L311.70,247.78 L312.59,247.87 L313.48,247.96 L314.37,248.05 L315.25,248.14 L316.14,248.23 L317.03,248.32 L317.92,248.40 L318.80,248.49 L319.69,248.57 L320.58,248.66 L321.47,248.74 L322.35,248.82 L323.24,248.90 L324.13,248.98 L325.02,249.06 L325.91,249.14 L326.80,249.21 L327.68,249.29 L328.57,249.36 L329.46,249.44 L330.35,249.51 L331.24,249.58 L332.13,249.65 L333.02,249.72 L333.90,249.79 L334.79,249.86 L335.68,249.93 L336.57,250.00 L337.46,250.07 L338.35,250.13 L339.24,250.20 L340.13,250.26 L341.02,250.33 L341.90,250.39 L342.79,250.45 L343.68,250.52 L344.57,250.58 L345.46,250.64 L346.35,250.70 L347.24,250.76 L348.13,250.82 L349.02,250.88 L349.91,250.94 L350.80,250.99 L351.69,251.05 L352.57,251.11 L353.46,251.17 L354.35,251.22 L355.24,251.28 L356.13,251.33 L357.02,251.39 L357.91,251.44 L358.80,251.50 L359.69,251.55 L360.58,251.60 L361.47,251.66 L362.36,251.71 L363.25,251.76 L364.13,251.81 L365.02,251.87 L365.91,251.92 L366.80,251.97 L367.69,252.02 L368.58,252.07 L369.47,252.12 L370.36,252.17 L371.25,252.23 L372.14,252.28 L373.02,252.33 L373.91,252.38 L374.80,252.43 L375.69,252.48 L376.58,252.53 L377.47,252.58 L378.36,252.63 L379.25,252.68 L380.13,252.73 L381.02,252.78 L381.91,252.83 L382.80,252.88 L383.69,252.93 L384.58,252.98 L385.46,253.03 L386.35,253.08 L387.24,253.13 L388.13,253.19 L389.02,253.24 L389.90,253.29 L390.79,253.34 L391.68,253.39 L392.57,253.44 L393.45,253.50 L394.34,253.55 L395.23,253.60 L396.12,253.66 L397.00,253.71 L397.89,253.76 L398.78,253.82 L399.66,253.87 L400.55,253.93 L401.44,253.98 L402.32,254.04 L403.21,254.09 L404.10,254.15 L404.98,254.21 L405.87,254.27 L406.76,254.32 L407.64,254.38 L408.53,254.44 L409.41,254.50 L410.30,254.56 L411.18,254.62" stroke="#ff00ff" stroke-width="1.9" stroke-dasharray="1.6 1.43"/>
</g>
<rect x="57.5" y="16.05" width="354.10" height="246.40" stroke="#000" stroke-width="1.0" fill="none"/>
<g stroke="#000" stroke-width="1.0" fill="none">
<path d="M235.20,196.0v-3.6M235.20,86.05v3.6M273.90,196.0v-3.6M273.90,86.05v3.6M312.60,196.0v-3.6M312.60,86.05v3.6M351.30,196.0v-3.6M351.30,86.05v3.6M196.5,174.01h3.6M390.0,174.01h-3.6M196.5,152.02h3.6M390.0,152.02h-3.6M196.5,130.03h3.6M390.0,130.03h-3.6M196.5,108.04h3.6M390.0,108.04h-3.6"/>
</g>
<g clip-path="url(#ci)" fill="none" stroke-linejoin="round">
<path d="M196.5,196.0H390.0" stroke="#ff0000" stroke-width="2"/>
<path d="M193.70,174.85 L196.50,175.93 L197.12,176.18 L197.74,176.41 L198.36,176.65 L198.98,176.88 L199.60,177.11 L200.22,177.33 L200.84,177.55 L201.47,177.77 L202.09,177.99 L202.71,178.20 L203.33,178.41 L203.96,178.61 L204.58,178.82 L205.21,179.02 L205.83,179.22 L206.46,179.41 L207.08,179.60 L207.71,179.79 L208.33,179.98 L208.96,180.16 L209.58,180.34 L210.21,180.52 L210.84,180.70 L211.47,180.87 L212.09,181.04 L212.72,181.21 L213.35,181.38 L213.98,181.54 L214.61,181.70 L215.23,181.86 L215.86,182.01 L216.49,182.17 L217.12,182.32 L217.75,182.47 L218.38,182.61 L219.01,182.76 L219.65,182.90 L220.28,183.04 L220.91,183.18 L221.54,183.31 L222.17,183.45 L222.80,183.58 L223.44,183.71 L224.07,183.84 L224.70,183.96 L225.34,184.08 L225.97,184.20 L226.60,184.32 L227.24,184.44 L227.87,184.56 L228.51,184.67 L229.14,184.78 L229.78,184.89 L230.41,185.00 L231.05,185.11 L231.68,185.21 L232.32,185.32 L232.96,185.42 L233.59,185.52 L234.23,185.62 L234.87,185.72 L235.50,185.81 L236.14,185.91 L236.78,186.00 L237.42,186.09 L238.06,186.18 L238.69,186.27 L239.33,186.36 L239.97,186.44 L240.61,186.53 L241.25,186.61 L241.89,186.69 L242.53,186.77 L243.17,186.85 L243.81,186.93 L244.45,187.01 L245.09,187.09 L245.73,187.16 L246.37,187.24 L247.01,187.31 L247.65,187.38 L248.30,187.45 L248.94,187.52 L249.58,187.59 L250.22,187.66 L250.86,187.73 L251.51,187.80 L252.15,187.86 L252.79,187.93 L253.43,188.00 L254.08,188.06 L254.72,188.12 L255.36,188.19 L256.01,188.25 L256.65,188.31 L257.30,188.37 L257.94,188.43 L258.58,188.49 L259.23,188.55 L259.87,188.61 L260.52,188.67 L261.16,188.73 L261.81,188.78 L262.45,188.84 L263.10,188.89 L263.75,188.95 L264.39,189.00 L265.04,189.06 L265.68,189.11 L266.33,189.16 L266.98,189.22 L267.62,189.27 L268.27,189.32 L268.92,189.37 L269.56,189.42 L270.21,189.47 L270.86,189.52 L271.50,189.56 L272.15,189.61 L272.80,189.66 L273.45,189.70 L274.10,189.75 L274.74,189.80 L275.39,189.84 L276.04,189.88 L276.69,189.93 L277.34,189.97 L277.98,190.01 L278.63,190.06 L279.28,190.10 L279.93,190.14 L280.58,190.18 L281.23,190.22 L281.88,190.26 L282.53,190.30 L283.18,190.34 L283.83,190.38 L284.48,190.42 L285.13,190.45 L285.78,190.49 L286.43,190.53 L287.08,190.56 L287.73,190.60 L288.38,190.63 L289.03,190.67 L289.68,190.70 L290.33,190.74 L290.98,190.77 L291.63,190.80 L292.28,190.84 L292.93,190.87 L293.58,190.90 L294.23,190.93 L294.88,190.97 L295.53,191.00 L296.18,191.03 L296.83,191.06 L297.49,191.09 L298.14,191.12 L298.79,191.15 L299.44,191.17 L300.09,191.20 L300.74,191.23 L301.39,191.26 L302.04,191.29 L302.70,191.31 L303.35,191.34 L304.00,191.37 L304.65,191.39 L305.30,191.42 L305.95,191.44 L306.61,191.47 L307.26,191.49 L307.91,191.52 L308.56,191.54 L309.21,191.57 L309.87,191.59 L310.52,191.61 L311.17,191.64 L311.82,191.66 L312.47,191.68 L313.13,191.70 L313.78,191.73 L314.43,191.75 L315.08,191.77 L315.73,191.79 L316.39,191.81 L317.04,191.83 L317.69,191.85 L318.34,191.88 L318.99,191.90 L319.65,191.92 L320.30,191.94 L320.95,191.96 L321.60,191.97 L322.25,191.99 L322.91,192.01 L323.56,192.03 L324.21,192.05 L324.86,192.07 L325.51,192.09 L326.17,192.11 L326.82,192.12 L327.47,192.14 L328.12,192.16 L328.77,192.18 L329.43,192.19 L330.08,192.21 L330.73,192.23 L331.38,192.25 L332.03,192.26 L332.69,192.28 L333.34,192.30 L333.99,192.31 L334.64,192.33 L335.29,192.35 L335.94,192.36 L336.59,192.38 L337.25,192.40 L337.90,192.41 L338.55,192.43 L339.20,192.44 L339.85,192.46 L340.50,192.47 L341.15,192.49 L341.80,192.51 L342.46,192.52 L343.11,192.54 L343.76,192.55 L344.41,192.57 L345.06,192.58 L345.71,192.60 L346.36,192.61 L347.01,192.63 L347.66,192.64 L348.31,192.66 L348.96,192.68 L349.61,192.69 L350.26,192.71 L350.91,192.72 L351.56,192.74 L352.21,192.75 L352.86,192.77 L353.51,192.78 L354.16,192.80 L354.81,192.81 L355.46,192.83 L356.11,192.84 L356.76,192.86 L357.41,192.88 L358.06,192.89 L358.70,192.91 L359.35,192.92 L360.00,192.94 L360.65,192.96 L361.30,192.97 L361.95,192.99 L362.59,193.00 L363.24,193.02 L363.89,193.04 L364.54,193.05 L365.19,193.07 L365.83,193.09 L366.48,193.10 L367.13,193.12 L367.78,193.14 L368.42,193.15 L369.07,193.17 L369.72,193.19 L370.36,193.21 L371.01,193.23 L371.66,193.24 L372.30,193.26 L372.95,193.28 L373.59,193.30 L374.24,193.32 L374.88,193.34 L375.53,193.35 L376.18,193.37 L376.82,193.39 L377.47,193.41 L378.11,193.43 L378.75,193.45 L379.40,193.47 L380.04,193.49 L380.69,193.51 L381.33,193.53 L381.98,193.56 L382.62,193.58 L383.26,193.60 L383.91,193.62 L384.55,193.64 L385.19,193.66 L385.83,193.69 L386.48,193.71 L387.12,193.73 L387.76,193.76 L388.40,193.78 L389.05,193.80 L392.04,193.92" stroke="#00ff00" stroke-width="1.9" stroke-dasharray="5.25 2.25" stroke-dashoffset="-1.80"/>
<path d="M194.59,119.32 L196.29,121.79 L196.71,122.40 L197.14,123.01 L197.56,123.61 L197.99,124.21 L198.42,124.80 L198.86,125.40 L199.30,125.98 L199.74,126.56 L200.19,127.14 L200.63,127.72 L201.09,128.29 L201.54,128.86 L202.00,129.42 L202.46,129.98 L202.92,130.53 L203.38,131.09 L203.85,131.63 L204.32,132.18 L204.80,132.72 L205.27,133.25 L205.75,133.78 L206.24,134.31 L206.72,134.84 L207.21,135.36 L207.70,135.87 L208.19,136.39 L208.69,136.90 L209.19,137.40 L209.69,137.90 L210.19,138.40 L210.70,138.90 L211.21,139.39 L211.72,139.88 L212.24,140.36 L212.75,140.84 L213.27,141.32 L213.79,141.79 L214.32,142.26 L214.84,142.73 L215.37,143.19 L215.91,143.65 L216.44,144.10 L216.98,144.55 L217.51,145.00 L218.06,145.45 L218.60,145.89 L219.15,146.33 L219.69,146.76 L220.24,147.19 L220.80,147.62 L221.35,148.05 L221.91,148.47 L222.47,148.88 L223.03,149.30 L223.59,149.71 L224.16,150.12 L224.73,150.52 L225.30,150.92 L225.87,151.32 L226.44,151.72 L227.02,152.11 L227.60,152.50 L228.18,152.88 L228.76,153.27 L229.35,153.64 L229.93,154.02 L230.52,154.39 L231.11,154.76 L231.71,155.13 L232.30,155.49 L232.90,155.85 L233.50,156.21 L234.10,156.57 L234.70,156.92 L235.30,157.27 L235.91,157.61 L236.51,157.95 L237.12,158.29 L237.73,158.63 L238.35,158.96 L238.96,159.29 L239.58,159.62 L240.19,159.95 L240.81,160.27 L241.43,160.59 L242.06,160.90 L242.68,161.22 L243.31,161.53 L243.93,161.84 L244.56,162.14 L245.19,162.44 L245.83,162.74 L246.46,163.04 L247.09,163.33 L247.73,163.62 L248.37,163.91 L249.01,164.20 L249.65,164.48 L250.29,164.76 L250.94,165.04 L251.58,165.32 L252.23,165.59 L252.87,165.86 L253.52,166.13 L254.17,166.39 L254.82,166.66 L255.48,166.92 L256.13,167.17 L256.79,167.43 L257.44,167.68 L258.10,167.93 L258.76,168.18 L259.42,168.43 L260.08,168.67 L260.74,168.91 L261.41,169.15 L262.07,169.38 L262.73,169.62 L263.40,169.85 L264.07,170.08 L264.74,170.30 L265.41,170.53 L266.08,170.75 L266.75,170.97 L267.42,171.19 L268.09,171.40 L268.77,171.62 L269.44,171.83 L270.12,172.03 L270.79,172.24 L271.47,172.45 L272.15,172.65 L272.83,172.85 L273.51,173.05 L274.19,173.24 L274.87,173.43 L275.55,173.63 L276.24,173.82 L276.92,174.00 L277.60,174.19 L278.29,174.37 L278.97,174.55 L279.66,174.73 L280.35,174.91 L281.03,175.09 L281.72,175.26 L282.41,175.43 L283.10,175.60 L283.79,175.77 L284.48,175.94 L285.17,176.10 L285.86,176.26 L286.55,176.42 L287.24,176.58 L287.93,176.74 L288.63,176.89 L289.32,177.05 L290.01,177.20 L290.71,177.35 L291.40,177.50 L292.10,177.64 L292.79,177.79 L293.49,177.93 L294.19,178.07 L294.88,178.21 L295.58,178.35 L296.28,178.49 L296.98,178.62 L297.68,178.76 L298.37,178.89 L299.07,179.02 L299.77,179.15 L300.47,179.27 L301.17,179.40 L301.87,179.52 L302.57,179.65 L303.28,179.77 L303.98,179.89 L304.68,180.01 L305.38,180.12 L306.08,180.24 L306.79,180.35 L307.49,180.46 L308.19,180.58 L308.90,180.69 L309.60,180.79 L310.30,180.90 L311.01,181.01 L311.71,181.11 L312.42,181.22 L313.12,181.32 L313.83,181.42 L314.53,181.52 L315.24,181.62 L315.94,181.72 L316.65,181.81 L317.35,181.91 L318.06,182.00 L318.77,182.09 L319.47,182.19 L320.18,182.28 L320.89,182.37 L321.59,182.45 L322.30,182.54 L323.01,182.63 L323.71,182.71 L324.42,182.80 L325.13,182.88 L325.84,182.96 L326.54,183.04 L327.25,183.12 L327.96,183.20 L328.67,183.28 L329.37,183.36 L330.08,183.44 L330.79,183.51 L331.50,183.59 L332.20,183.66 L332.91,183.73 L333.62,183.81 L334.33,183.88 L335.04,183.95 L335.74,184.02 L336.45,184.09 L337.16,184.16 L337.87,184.23 L338.57,184.29 L339.28,184.36 L339.99,184.42 L340.69,184.49 L341.40,184.55 L342.11,184.62 L342.82,184.68 L343.52,184.74 L344.23,184.81 L344.94,184.87 L345.64,184.93 L346.35,184.99 L347.05,185.05 L347.76,185.11 L348.47,185.17 L349.17,185.22 L349.88,185.28 L350.58,185.34 L351.29,185.40 L351.99,185.45 L352.70,185.51 L353.40,185.56 L354.10,185.62 L354.81,185.67 L355.51,185.73 L356.21,185.78 L356.92,185.84 L357.62,185.89 L358.32,185.94 L359.03,186.00 L359.73,186.05 L360.43,186.10 L361.13,186.16 L361.83,186.21 L362.53,186.26 L363.23,186.31 L363.93,186.36 L364.63,186.41 L365.33,186.47 L366.03,186.52 L366.73,186.57 L367.43,186.62 L368.13,186.67 L368.82,186.72 L369.52,186.77 L370.22,186.82 L370.91,186.87 L371.61,186.92 L372.30,186.97 L373.00,187.02 L373.69,187.07 L374.39,187.13 L375.08,187.18 L375.77,187.23 L376.47,187.28 L377.16,187.33 L377.85,187.38 L378.54,187.43 L379.23,187.48 L379.92,187.54 L380.61,187.59 L381.30,187.64 L381.99,187.69 L382.68,187.75 L383.37,187.80 L384.05,187.85 L384.74,187.90 L385.42,187.96 L386.11,188.01 L386.79,188.07 L387.48,188.12 L388.16,188.18 L388.84,188.23 L391.83,188.48" stroke="#0000ff" stroke-width="1.9" stroke-dasharray="7.84 2.14 1.32 2.03" stroke-dashoffset="-2.30"/>
<path d="M234.03,83.25 L235.42,85.91 L235.71,86.48 L236.01,87.04 L236.31,87.61 L236.61,88.17 L236.92,88.73 L237.22,89.28 L237.53,89.84 L237.84,90.39 L238.16,90.94 L238.47,91.49 L238.79,92.04 L239.11,92.58 L239.44,93.13 L239.76,93.67 L240.09,94.21 L240.42,94.74 L240.75,95.28 L241.08,95.81 L241.42,96.34 L241.76,96.87 L242.10,97.40 L242.44,97.92 L242.79,98.44 L243.13,98.96 L243.48,99.48 L243.84,100.00 L244.19,100.51 L244.54,101.02 L244.90,101.53 L245.26,102.04 L245.62,102.55 L245.99,103.05 L246.36,103.55 L246.72,104.05 L247.09,104.55 L247.47,105.05 L247.84,105.54 L248.22,106.03 L248.60,106.52 L248.98,107.01 L249.36,107.50 L249.74,107.98 L250.13,108.46 L250.52,108.94 L250.91,109.42 L251.30,109.90 L251.70,110.37 L252.09,110.84 L252.49,111.31 L252.89,111.78 L253.29,112.25 L253.70,112.71 L254.10,113.17 L254.51,113.63 L254.92,114.09 L255.33,114.55 L255.75,115.00 L256.16,115.45 L256.58,115.90 L257.00,116.35 L257.42,116.80 L257.84,117.24 L258.27,117.69 L258.69,118.13 L259.12,118.56 L259.55,119.00 L259.98,119.43 L260.42,119.87 L260.85,120.30 L261.29,120.73 L261.73,121.15 L262.17,121.58 L262.61,122.00 L263.05,122.42 L263.50,122.84 L263.95,123.26 L264.39,123.67 L264.85,124.08 L265.30,124.50 L265.75,124.91 L266.21,125.31 L266.66,125.72 L267.12,126.12 L267.58,126.52 L268.05,126.92 L268.51,127.32 L268.97,127.72 L269.44,128.11 L269.91,128.50 L270.38,128.89 L270.85,129.28 L271.32,129.66 L271.80,130.05 L272.28,130.43 L272.75,130.81 L273.23,131.19 L273.71,131.57 L274.19,131.94 L274.68,132.31 L275.16,132.68 L275.65,133.05 L276.14,133.42 L276.63,133.79 L277.12,134.15 L277.61,134.51 L278.10,134.87 L278.60,135.23 L279.10,135.58 L279.59,135.94 L280.09,136.29 L280.59,136.64 L281.10,136.99 L281.60,137.33 L282.11,137.68 L282.61,138.02 L283.12,138.36 L283.63,138.70 L284.14,139.04 L284.65,139.37 L285.16,139.71 L285.68,140.04 L286.19,140.37 L286.71,140.70 L287.23,141.02 L287.75,141.35 L288.27,141.67 L288.79,141.99 L289.31,142.31 L289.83,142.62 L290.36,142.94 L290.89,143.25 L291.41,143.56 L291.94,143.87 L292.47,144.18 L293.00,144.48 L293.54,144.79 L294.07,145.09 L294.60,145.39 L295.14,145.69 L295.68,145.99 L296.21,146.28 L296.75,146.57 L297.29,146.86 L297.83,147.15 L298.38,147.44 L298.92,147.73 L299.46,148.01 L300.01,148.29 L300.56,148.57 L301.10,148.85 L301.65,149.13 L302.20,149.41 L302.75,149.68 L303.30,149.95 L303.86,150.22 L304.41,150.49 L304.96,150.76 L305.52,151.02 L306.07,151.28 L306.63,151.54 L307.19,151.80 L307.75,152.06 L308.31,152.32 L308.87,152.57 L309.43,152.83 L309.99,153.08 L310.56,153.33 L311.12,153.57 L311.69,153.82 L312.25,154.07 L312.82,154.31 L313.39,154.55 L313.96,154.79 L314.53,155.03 L315.10,155.26 L315.67,155.50 L316.24,155.73 L316.81,155.96 L317.38,156.19 L317.96,156.42 L318.53,156.65 L319.11,156.87 L319.68,157.10 L320.26,157.32 L320.84,157.54 L321.42,157.76 L322.00,157.97 L322.58,158.19 L323.16,158.40 L323.74,158.62 L324.32,158.83 L324.90,159.04 L325.49,159.24 L326.07,159.45 L326.65,159.65 L327.24,159.86 L327.82,160.06 L328.41,160.26 L329.00,160.46 L329.58,160.66 L330.17,160.85 L330.76,161.05 L331.35,161.24 L331.94,161.43 L332.53,161.62 L333.12,161.81 L333.71,161.99 L334.30,162.18 L334.89,162.36 L335.48,162.54 L336.08,162.73 L336.67,162.90 L337.27,163.08 L337.86,163.26 L338.45,163.43 L339.05,163.61 L339.64,163.78 L340.24,163.95 L340.84,164.12 L341.43,164.29 L342.03,164.45 L342.63,164.62 L343.23,164.78 L343.83,164.95 L344.42,165.11 L345.02,165.27 L345.62,165.42 L346.22,165.58 L346.82,165.74 L347.42,165.89 L348.02,166.04 L348.62,166.20 L349.22,166.35 L349.83,166.49 L350.43,166.64 L351.03,166.79 L351.63,166.93 L352.23,167.08 L352.84,167.22 L353.44,167.36 L354.04,167.50 L354.65,167.64 L355.25,167.77 L355.85,167.91 L356.46,168.04 L357.06,168.18 L357.66,168.31 L358.27,168.44 L358.87,168.57 L359.48,168.70 L360.08,168.82 L360.69,168.95 L361.29,169.07 L361.90,169.20 L362.50,169.32 L363.11,169.44 L363.71,169.56 L364.32,169.68 L364.92,169.79 L365.53,169.91 L366.13,170.02 L366.74,170.14 L367.34,170.25 L367.95,170.36 L368.55,170.47 L369.16,170.58 L369.76,170.68 L370.37,170.79 L370.97,170.90 L371.58,171.00 L372.18,171.10 L372.79,171.20 L373.39,171.30 L374.00,171.40 L374.60,171.50 L375.21,171.60 L375.81,171.69 L376.41,171.79 L377.02,171.88 L377.62,171.98 L378.23,172.07 L378.83,172.16 L379.43,172.25 L380.04,172.33 L380.64,172.42 L381.24,172.51 L381.84,172.59 L382.45,172.68 L383.05,172.76 L383.65,172.84 L384.25,172.92 L384.85,173.00 L385.46,173.08 L386.06,173.16 L386.66,173.23 L387.26,173.31 L387.86,173.38 L388.46,173.46 L389.06,173.53 L392.04,173.89" stroke="#ff00ff" stroke-width="1.9" stroke-dasharray="1.6 1.43" stroke-dashoffset="0.00"/>
</g>
<rect x="196.5" y="86.05" width="193.50" height="109.95" stroke="#000" stroke-width="1.0" fill="none"/>
<g font-family="Liberation Sans, sans-serif" fill="#000" text-rendering="geometricPrecision">
<text x="42.15" y="266.85" font-size="13.4">0</text>
<path transform="translate(34.70,236.07) scale(0.00654,-0.00654)" d="M763,0H583V1147Q518,1085 412.5,1023Q307,961 223,930V1104Q374,1175 487,1276Q600,1377 647,1472H763Z"/><text x="42.15" y="236.07" font-size="13.4">0</text>
<text x="34.70" y="205.29" font-size="13.4">20</text>
<text x="34.70" y="174.51" font-size="13.4">30</text>
<text x="34.70" y="143.73" font-size="13.4">40</text>
<text x="34.70" y="112.95" font-size="13.4">50</text>
<text x="34.70" y="82.17" font-size="13.4">60</text>
<text x="34.70" y="51.39" font-size="13.4">70</text>
<text x="34.70" y="20.61" font-size="13.4">80</text>
<text x="55.47" y="280.10" font-size="13.4">0</text>
<text x="85.30" y="280.10" font-size="13.4">0.5</text>
<path transform="translate(126.29,280.10) scale(0.00654,-0.00654)" d="M763,0H583V1147Q518,1085 412.5,1023Q307,961 223,930V1104Q374,1175 487,1276Q600,1377 647,1472H763Z"/>
<path transform="translate(156.12,280.10) scale(0.00654,-0.00654)" d="M763,0H583V1147Q518,1085 412.5,1023Q307,961 223,930V1104Q374,1175 487,1276Q600,1377 647,1472H763Z"/><text x="163.57" y="280.10" font-size="13.4">.5</text>
<text x="197.11" y="280.10" font-size="13.4">2</text>
<text x="226.94" y="280.10" font-size="13.4">2.5</text>
<text x="267.93" y="280.10" font-size="13.4">3</text>
<text x="297.76" y="280.10" font-size="13.4">3.5</text>
<text x="338.75" y="280.10" font-size="13.4">4</text>
<text x="368.58" y="280.10" font-size="13.4">4.5</text>
<text x="409.57" y="280.10" font-size="13.4">5</text>
<text x="181.05" y="200.55" font-size="13.4">0</text>
<text x="181.05" y="178.56" font-size="13.4">5</text>
<path transform="translate(173.60,156.57) scale(0.00654,-0.00654)" d="M763,0H583V1147Q518,1085 412.5,1023Q307,961 223,930V1104Q374,1175 487,1276Q600,1377 647,1472H763Z"/><text x="181.05" y="156.57" font-size="13.4">0</text>
<path transform="translate(173.60,134.58) scale(0.00654,-0.00654)" d="M763,0H583V1147Q518,1085 412.5,1023Q307,961 223,930V1104Q374,1175 487,1276Q600,1377 647,1472H763Z"/><text x="181.05" y="134.58" font-size="13.4">5</text>
<text x="173.60" y="112.59" font-size="13.4">20</text>
<text x="173.60" y="90.60" font-size="13.4">25</text>
<path transform="translate(194.47,213.50) scale(0.00654,-0.00654)" d="M763,0H583V1147Q518,1085 412.5,1023Q307,961 223,930V1104Q374,1175 487,1276Q600,1377 647,1472H763Z"/>
<path transform="translate(227.59,213.50) scale(0.00654,-0.00654)" d="M763,0H583V1147Q518,1085 412.5,1023Q307,961 223,930V1104Q374,1175 487,1276Q600,1377 647,1472H763Z"/><text x="235.04" y="213.50" font-size="13.4">.5</text>
<text x="271.87" y="213.50" font-size="13.4">2</text>
<text x="304.99" y="213.50" font-size="13.4">2.5</text>
<text x="349.27" y="213.50" font-size="13.4">3</text>
<text x="382.39" y="213.50" font-size="13.4">3.5</text>
<text x="234.6" y="300.4" font-size="16.3" text-anchor="middle">T</text>
<g transform="translate(16.4,185.3) rotate(-90)" font-size="16.3">
<text x="0" y="0">(8</text>
<text x="13.6" y="0" font-family="Liberation Serif, serif">π</text>
<text x="21.4" y="0">G</text>
<text x="33.7" y="4.6" font-size="13.0">N</text>
<text x="44.2" y="0">)</text>
<text x="53.3" y="0" font-size="14.5">Δ</text>
<text x="63.0" y="0">p</text>
<text x="71.4" y="0">/T</text>
<text x="86.2" y="-8.4" font-size="13.0">4</text>
</g>
<text x="317.9" y="30.90" font-family="Liberation Serif, serif" font-size="15.01">μ</text>
<text x="325.85" y="30.90" font-size="13.4">=</text>
<text x="333.23" y="30.90" font-size="13.4">0</text>
<text x="341.38" y="30.90" font-size="13.4">.</text><path transform="translate(345.10,30.90) scale(0.00654,-0.00654)" d="M763,0H583V1147Q518,1085 412.5,1023Q307,961 223,930V1104Q374,1175 487,1276Q600,1377 647,1472H763Z"/>
<path d="M359.8,26.30H395.6" stroke="#ff0000" stroke-width="1.9" fill="none"/>
<text x="317.9" y="44.27" font-family="Liberation Serif, serif" font-size="15.01">μ</text>
<text x="325.85" y="44.27" font-size="13.4">=</text>
<text x="333.23" y="44.27" font-size="13.4">0</text>
<text x="341.38" y="44.27" font-size="13.4">.8</text>
<path d="M359.8,39.67H395.6" stroke="#00ff00" stroke-width="1.9" fill="none" stroke-dasharray="5.1 2.2"/>
<text x="317.9" y="57.64" font-family="Liberation Serif, serif" font-size="15.01">μ</text>
<text x="325.85" y="57.64" font-size="13.4">=</text>
<path transform="translate(333.23,57.64) scale(0.00654,-0.00654)" d="M763,0H583V1147Q518,1085 412.5,1023Q307,961 223,930V1104Q374,1175 487,1276Q600,1377 647,1472H763Z"/>
<text x="341.38" y="57.64" font-size="13.4">.5</text>
<path d="M359.8,53.04H395.6" stroke="#0000ff" stroke-width="1.9" fill="none" stroke-dasharray="7.7 2.1 1.3 2.0"/>
<text x="317.9" y="71.01" font-family="Liberation Serif, serif" font-size="15.01">μ</text>
<text x="325.85" y="71.01" font-size="13.4">=</text>
<text x="333.23" y="71.01" font-size="13.4">2</text>
<text x="341.38" y="71.01" font-size="13.4">.5</text>
<path d="M359.8,66.41H395.6" stroke="#ff00ff" stroke-width="1.9" fill="none" stroke-dasharray="1.6 1.43"/>
</g>
</svg>
</body></html>
